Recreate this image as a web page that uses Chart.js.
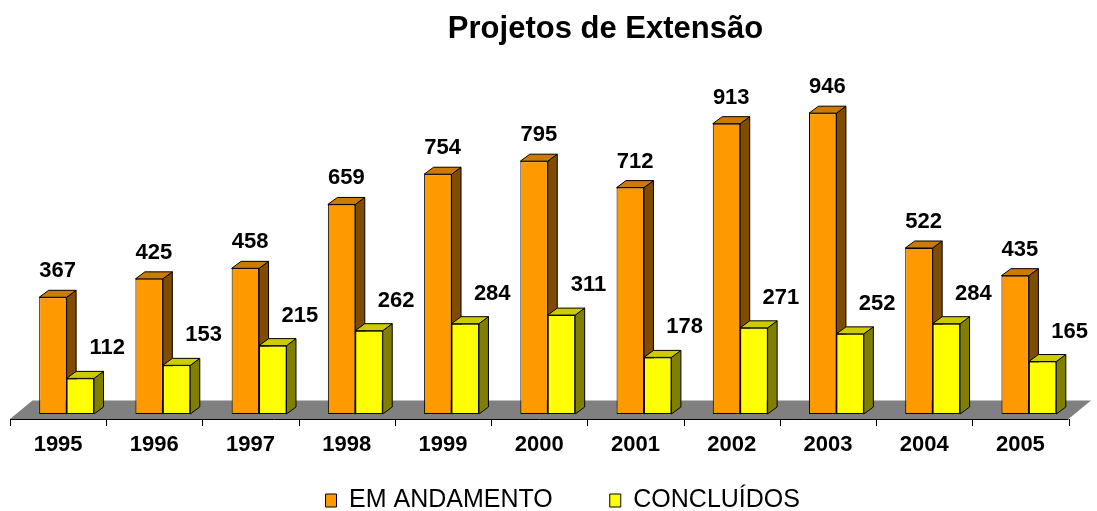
<!DOCTYPE html>
<html>
<head>
<meta charset="utf-8">
<script src="https://cdn.jsdelivr.net/npm/chart.js@4.4.0/dist/chart.umd.min.js"></script>
<style>
html,body{margin:0;padding:0;background:#ffffff;}
#wrap{width:1097px;height:511px;position:relative;}
</style>
</head>
<body>
<div id="wrap"><canvas id="c" width="1097" height="511"></canvas></div>
<script>
// ---- data ----
const categories = ['1995','1996','1997','1998','1999','2000','2001','2002','2003','2004','2005'];
const emAndamento = [367, 425, 458, 659, 754, 795, 712, 913, 946, 522, 435];
const concluidos  = [112, 153, 215, 262, 284, 311, 178, 271, 252, 284, 165];
const seriesNames = ['EM ANDAMENTO', 'CONCLUÍDOS'];
const chartTitle = 'Projetos de Extensão';

// ---- styling constants ----
const FONT = "'Liberation Sans', Arial, Helvetica, sans-serif";
const DX = 9.5, DY = 7;          // bar depth projection
const SHIFT = 8.5;               // axis/floor front edge offset from bar front faces
const FLOOR_GAP = 5;             // floor front edge below bar base
const FLOOR_DX = 22.5, FLOOR_DY = 18.5;
const faceColors = [
  {front:'#FF9900', top:'#CC7A00', side:'#7F4C00'},
  {front:'#FFFF00', top:'#CCCC00', side:'#808000'}
];
const labelOffsets = [{dx: DX/2, dy: 20}, {dx: 27, dy: 24}];

Chart.defaults.font.family = FONT;
Chart.defaults.color = '#000';

function draw3d(ctx, el, col) {
  const p = el.getProps(['x','y','base','width'], true);
  const l = p.x - p.width/2, r = p.x + p.width/2, y = p.y, b = p.base;
  ctx.save();
  ctx.lineWidth = 1;
  ctx.strokeStyle = '#000';
  ctx.lineJoin = 'miter';
  ctx.beginPath();
  ctx.moveTo(r, y); ctx.lineTo(r+DX, y-DY); ctx.lineTo(r+DX, b-DY); ctx.lineTo(r, b); ctx.closePath();
  ctx.fillStyle = col.side; ctx.fill(); ctx.stroke();
  ctx.beginPath();
  ctx.moveTo(l, y); ctx.lineTo(r, y); ctx.lineTo(r+DX, y-DY); ctx.lineTo(l+DX, y-DY); ctx.closePath();
  ctx.fillStyle = col.top; ctx.fill(); ctx.stroke();
  ctx.restore();
}

const threeD = {
  id: 'threeD',
  afterLayout(chart) {
    const lg = chart.legend;
    if (lg) {
      lg.left += 15; lg.right += 15;
      lg.top = chart.chartArea.bottom + 17;
      lg.bottom = chart.height;
      lg.height = lg.bottom - lg.top;
    }
  },
  beforeDatasetsDraw(chart) {
    const {ctx, chartArea, scales} = chart;
    const xs = scales.x;
    const left = chartArea.left - SHIFT, right = chartArea.right - SHIFT;
    const fy = chartArea.bottom + FLOOR_GAP;
    ctx.save();
    // floor
    ctx.fillStyle = '#808080';
    ctx.beginPath();
    ctx.moveTo(left, fy); ctx.lineTo(right, fy);
    ctx.lineTo(right + FLOOR_DX, fy - FLOOR_DY); ctx.lineTo(left + FLOOR_DX, fy - FLOOR_DY);
    ctx.closePath(); ctx.fill();
    // axis line + ticks
    ctx.strokeStyle = '#000'; ctx.lineWidth = 1;
    ctx.beginPath();
    ctx.moveTo(left, Math.round(fy) + 0.5); ctx.lineTo(right, Math.round(fy) + 0.5);
    for (let i = 0; i <= categories.length; i++) {
      const px = Math.round(xs.getPixelForValue(i - 0.5) - SHIFT) + 0.5;
      ctx.moveTo(px, Math.round(fy)); ctx.lineTo(px, Math.round(fy) + 7);
    }
    ctx.stroke();
    ctx.restore();
    // back bar (orange) depth faces
    const meta = chart.getDatasetMeta(0);
    meta.data.forEach(el => draw3d(ctx, el, faceColors[0]));
  },
  afterDatasetsDraw(chart) {
    const {ctx} = chart;
    const meta1 = chart.getDatasetMeta(1);
    meta1.data.forEach(el => draw3d(ctx, el, faceColors[1]));
    // value labels
    ctx.save();
    ctx.font = 'bold 22px ' + FONT;
    ctx.fillStyle = '#000';
    ctx.textAlign = 'center';
    ctx.textBaseline = 'alphabetic';
    chart.data.datasets.forEach((ds, di) => {
      const meta = chart.getDatasetMeta(di);
      meta.data.forEach((el, i) => {
        const p = el.getProps(['x','y','width'], true);
        ctx.fillText(String(ds.data[i]), p.x + labelOffsets[di].dx, p.y - labelOffsets[di].dy);
      });
    });
    // title
    ctx.font = 'bold 31px ' + FONT;
    ctx.fillText(chartTitle, 605.5, 38);
    ctx.restore();
  }
};

new Chart(document.getElementById('c'), {
  type: 'bar',
  data: {
    labels: categories,
    datasets: [
      { label: seriesNames[0], data: emAndamento, backgroundColor: faceColors[0].front,
        borderColor: '#000', borderWidth: 1, borderSkipped: false },
      { label: seriesNames[1], data: concluidos, backgroundColor: faceColors[1].front,
        borderColor: '#000', borderWidth: 1, borderSkipped: false }
    ]
  },
  options: {
    responsive: false,
    animation: false,
    events: [],
    layout: { padding: { top: 96, left: 18.5, right: 20, bottom: 0 } },
    datasets: { bar: { categoryPercentage: 0.57, barPercentage: 1.0 } },
    scales: {
      x: {
        offset: true,
        grid: { display: false, drawTicks: false },
        border: { display: false },
        ticks: { font: { size: 22, weight: 'bold' }, color: '#000', padding: 18,
                 labelOffset: -SHIFT, maxRotation: 0, autoSkip: false },
        afterFit(s) { s.height = 50; }
      },
      y: { display: false, min: 0, max: 1000 }
    },
    plugins: {
      legend: {
        position: 'bottom',
        maxHeight: 47,
        labels: { font: { size: 25 }, color: '#000', boxWidth: 11, boxHeight: 13, padding: 57 }
      },
      tooltip: { enabled: false },
      title: { display: false }
    }
  },
  plugins: [threeD]
});
</script>
</body>
</html>
